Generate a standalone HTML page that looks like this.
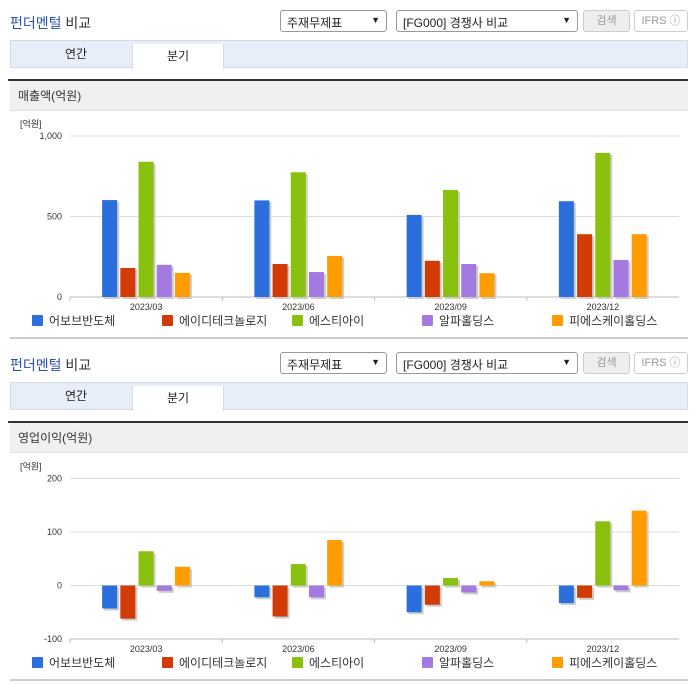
<!DOCTYPE html>
<html><head><meta charset="utf-8">
<style>
body{margin:0;width:696px;height:684px;background:#fff;font-family:"Liberation Sans","Noto Sans CJK KR",sans-serif;position:relative;overflow:hidden}
.a{position:absolute}
.title{font-size:14px;color:#333;left:10px}
.title b{color:#2a4fb0;font-weight:normal}
.sel{border:1px solid #999;border-radius:3px;height:22px;font-size:12px;color:#222;box-sizing:border-box;padding:3px 6px;background:#fff}
.sel span{position:absolute;right:6px;top:4px;font-size:9px}
.btn{border:1px solid #ccc;border-radius:3px;height:22px;box-sizing:border-box;font-size:11px;color:#999;text-align:center;line-height:20px}
.tabs{left:10px;width:678px;height:28px;background:#e8eef7;border:1px solid #d5dce8;box-sizing:border-box}
.tab{font-size:12px;color:#222;top:0;height:27px;line-height:27px;text-align:center;width:90px}
.tab2{background:#fff;border-left:1px solid #d5dce8;border-right:1px solid #d5dce8;left:121px;top:3px;height:25px;line-height:25px}
.dark{left:8px;width:680px;height:2px;background:#333}
.band{left:10px;width:678px;height:30px;background:#f0f0f0;border-bottom:1px solid #ddd;font-size:12px;color:#333;line-height:30px;padding-left:8px;box-sizing:border-box}
.bot{left:10px;width:678px;height:2px;background:#ccc}
svg text{font-family:"Liberation Sans","Noto Sans CJK KR",sans-serif}
</style></head><body>
<div id="root"></div>
<script>
const categories=["2023/03","2023/06","2023/09","2023/12"];
const seriesNames=["어보브반도체","에이디테크놀로지","에스티아이","알파홀딩스","피에스케이홀딩스"];
const colors=["#2a6fdb","#d23a06","#8ac10e","#a57ae0","#ff9c00"];
const salesBlue=[602,600,510,595];
const salesRed=[180,205,225,390];
const salesGreen=[840,775,665,895];
const salesPurple=[200,155,205,230];
const salesOrange=[150,255,148,390];
const salesTicks=[0,500,1000];
const salesTickLabels=["0","500","1,000"];
const opBlue=[-43,-22,-50,-33];
const opRed=[-62,-58,-36,-23];
const opGreen=[64,40,14,120];
const opPurple=[-10,-22,-13,-9];
const opOrange=[35,85,8,140];
const opTicks=[-100,0,100,200];
const opTickLabels=["-100","0","100","200"];

const root=document.getElementById('root');
function div(cls,style,html,name,inter){const d=document.createElement('div');d.className='a '+cls;d.style.cssText=style;d.innerHTML=html;


root.appendChild(d);return d;}
const NS='http://www.w3.org/2000/svg';
function el(tag,attrs,parent){const e=document.createElementNS(NS,tag);for(const k in attrs)e.setAttribute(k,attrs[k]);parent.appendChild(e);return e;}

function section(off,bandTitle,series,ticks,tickLabels,vmin,vmax,yTop,yBot,pfx){
  div('title','top:'+(13+off)+'px','<b>펀더멘털</b> 비교',pfx+'section-title',false);
  div('sel','left:280px;top:'+(10+off)+'px;width:107px','주재무제표<span>&#9660;</span>',pfx+'statement-select',true);
  div('sel','left:396px;top:'+(10+off)+'px;width:182px','[FG000] 경쟁사 비교<span>&#9660;</span>',pfx+'compare-select',true);
  div('btn','left:583px;top:'+(10+off)+'px;width:47px;background:#eee','검색',pfx+'search-button',true);
  div('btn','left:634px;top:'+(10+off)+'px;width:54px','IFRS &#9432;',pfx+'ifrs-button',true);
  const t=div('tabs','top:'+(40+off)+'px','',pfx+'period-tabs',false);
  const a=document.createElement('div');a.className='a tab';a.style.left='20px';a.textContent='연간';
  
  
  t.appendChild(a);
  const b=document.createElement('div');b.className='a tab tab2';b.textContent='분기';
  
  
  t.appendChild(b);
  div('dark','top:'+(79+off)+'px','',pfx+'divider',false);
  div('band','top:'+(81+off)+'px',bandTitle,pfx+'chart-title',false);
  div('bot','top:'+(337+off)+'px','',pfx+'bottom-rule',false);
  const svg=el('svg',{width:696,height:230,style:'position:absolute;left:0;top:'+(112+off)+'px'},root);
  
  
  const oy=112+off;
  const x0=70,x1=679;
  const y=v=>yBot-(v-vmin)/(vmax-vmin)*(yBot-yTop)-oy;
  const u=el('text',{x:20,y:yTop-oy-9,'font-size':9,fill:'#333'},svg);u.textContent='[억원]';
  
  
  ticks.forEach((tv,i)=>{
    if(tv!==vmin){const g=el('line',{x1:x0,x2:x1,y1:y(tv),y2:y(tv),stroke:'#ddd'},svg);
    
    }
    const tx=el('text',{x:62,y:y(tv)+3,'font-size':9,fill:'#333','text-anchor':'end'},svg);tx.textContent=tickLabels[i];
    
    
  });
  const ax=el('line',{x1:x0,x2:x1,y1:y(vmin),y2:y(vmin),stroke:'#bbb'},svg);
  
  
  const cw=(x1-x0)/categories.length;
  categories.forEach((c,ci)=>{
    const tk=el('line',{x1:x0+cw*ci,x2:x0+cw*ci,y1:y(vmin),y2:y(vmin)+4,stroke:'#bbb'},svg);
    
    
    const cx=x0+cw*(ci+0.5);
    const lt=el('text',{x:cx,y:y(vmin)+13,'font-size':9,fill:'#333','text-anchor':'middle'},svg);lt.textContent=c;
    
    
    series.forEach((s,si)=>{
      const bx=cx-44+si*18.2;
      const v=s[ci];const top=Math.min(y(0),y(v)),h=Math.abs(y(0)-y(v));
      el('rect',{x:bx+2,y:top+2,width:15,height:h,fill:'#ccc'},svg);
      const r=el('rect',{x:bx,y:top,width:15,height:h,fill:colors[si]},svg);
      
      
    });
  });
  const lx=[32,162,292,422,552];
  seriesNames.forEach((n,i)=>{
    const ly=321+off-oy;
    const r=el('rect',{x:lx[i],y:ly-6,width:11,height:11,fill:colors[i],rx:1},svg);
    
    
    const tx=el('text',{x:lx[i]+17,y:ly+4,'font-size':12,fill:'#333'},svg);tx.textContent=n;
    
    
  });
}
section(0,'매출액(억원)',[salesBlue,salesRed,salesGreen,salesPurple,salesOrange],salesTicks,salesTickLabels,0,1000,136,297,'sales-');
section(342,'영업이익(억원)',[opBlue,opRed,opGreen,opPurple,opOrange],opTicks,opTickLabels,-100,200,478.5,639,'op-');
</script>
</body></html>
